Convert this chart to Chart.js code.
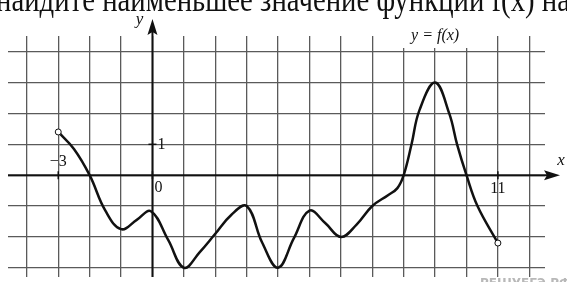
<!DOCTYPE html>
<html>
<head>
<meta charset="utf-8">
<title>y = f(x)</title>
<script src="https://cdn.jsdelivr.net/npm/chart.js@4/dist/chart.umd.min.js"></script>
<style>
body { margin: 0; background: #fff; }
</style>
</head>
<body>
<canvas id="graph" width="567" height="282"></canvas>
<script>
// points of the curve
var xs = [-3, -2.5, -2, -1.5, -1, -0.5, -0.05, 0.5, 1, 1.5, 2, 2.5, 3, 3.5, 4, 4.5, 5, 5.5, 6, 6.5, 7, 7.5, 7.8, 8, 8.25, 8.5, 9, 9.45, 9.7, 10, 10.35, 11];
var ys = [1.4, 0.85, 0, -1.15, -1.75, -1.45, -1.17, -2.1, -3, -2.5, -1.9, -1.3, -1, -2.2, -3, -2.05, -1.15, -1.55, -2, -1.6, -1.0, -0.65, -0.42, 0, 1, 2.1, 3, 2, 1, 0, -1, -2.2];
var tickLabels = [{x: -3, y: 0, text: "\u22123"}, {x: 0, y: 0, text: "0"}, {x: 0, y: 1, text: "1"}, {x: 11, y: 0, text: "11"}];
var title = "найдите наименьшее значение функции f(x) на";

var pts = [];
for (var i = 0; i < xs.length; i++) {
  pts.push({x: xs[i], y: ys[i]});
}
var radii = xs.map(function(v, i) { return (i == 0 || i == xs.length - 1) ? 3 : 0; });

var axesPlugin = {
  id: 'axes',
  beforeDraw: function(chart) {
    var c = chart.ctx;
    c.save();
    c.fillStyle = '#fff';
    c.fillRect(0, 0, chart.width, chart.height);
    c.restore();
  },
  beforeDatasetsDraw: function(chart) {
    var c = chart.ctx, sx = chart.scales.x, sy = chart.scales.y;
    var x0 = sx.getPixelForValue(0), y0 = sy.getPixelForValue(0);
    c.save();
    // white box behind the curve name
    c.fillStyle = '#fff';
    c.fillRect(sx.getPixelForValue(9) - 38, 26, 76, 22);
    c.strokeStyle = '#111';
    c.fillStyle = '#111';
    c.lineWidth = 2;
    // x axis
    c.beginPath();
    c.moveTo(chart.chartArea.left, y0);
    c.lineTo(550, y0);
    c.stroke();
    c.beginPath();
    c.moveTo(560, y0);
    c.lineTo(544, y0 - 5);
    c.lineTo(547, y0);
    c.lineTo(544, y0 + 5);
    c.closePath();
    c.fill();
    // y axis
    c.beginPath();
    c.moveTo(x0, chart.chartArea.bottom);
    c.lineTo(x0, 28);
    c.stroke();
    c.beginPath();
    c.moveTo(x0, 19);
    c.lineTo(x0 - 5, 35);
    c.lineTo(x0, 32);
    c.lineTo(x0 + 5, 35);
    c.closePath();
    c.fill();
    // small tick marks
    c.lineWidth = 1.5;
    tickLabels.forEach(function(t) {
      var px = sx.getPixelForValue(t.x), py = sy.getPixelForValue(t.y);
      c.beginPath();
      if (t.y == 0) { c.moveTo(px, py - 4); c.lineTo(px, py + 4); }
      else { c.moveTo(px - 4, py); c.lineTo(px + 4, py); }
      c.stroke();
    });
    c.restore();
  },
  afterDraw: function(chart) {
    var c = chart.ctx, sx = chart.scales.x, sy = chart.scales.y;
    c.save();
    c.fillStyle = '#111';
    c.textBaseline = 'middle';
    c.font = '16px "Liberation Serif", serif';
    tickLabels.forEach(function(t) {
      var px = sx.getPixelForValue(t.x), py = sy.getPixelForValue(t.y);
      if (t.text == "\u22123") { c.textAlign = 'center'; c.fillText(t.text, px, py - 13); }
      else if (t.text == "0") { c.textAlign = 'left'; c.fillText(t.text, px + 2, py + 13); }
      else if (t.text == "1") { c.textAlign = 'left'; c.fillText(t.text, px + 5, py); }
      else { c.textAlign = 'center'; c.fillText(t.text, px, py + 14); }
    });
    c.font = 'italic 17px "Liberation Serif", serif';
    c.textAlign = 'center';
    c.fillText('y', sx.getPixelForValue(0) - 13, 20);
    c.fillText('x', 561, sy.getPixelForValue(0) - 15);
    c.font = 'italic 16px "Liberation Serif", serif';
    c.fillText('y = f(x)', sx.getPixelForValue(9), 36);

    // cut-off line of the task text at the top
    c.font = '36px "Liberation Serif", serif';
    c.textAlign = 'left';
    c.textBaseline = 'alphabetic';
    var w = c.measureText(title).width;
    c.save();
    c.translate(-4, 11);
    c.scale(574 / w, 1);
    c.fillText(title, 0, 0);
    c.restore();

    // watermark
    c.fillStyle = '#b8b8b8';
    c.font = 'bold 12px "DejaVu Sans", sans-serif';
    c.fillText('РЕШУЕГЭ.РФ', 480, 287);
    c.restore();
  }
};

new Chart(document.getElementById('graph'), {
  type: 'scatter',
  data: {
    datasets: [{
      label: 'y = f(x)',
      data: pts,
      showLine: true,
      tension: 0.4,
      borderColor: '#111',
      borderWidth: 2.5,
      pointRadius: radii,
      pointBackgroundColor: '#fff',
      pointBorderColor: '#111',
      pointBorderWidth: 1
    }]
  },
  options: {
    responsive: false,
    animation: false,
    layout: { padding: { left: 8, right: 22, top: 36, bottom: 0 } },
    plugins: { legend: { display: false }, tooltip: { enabled: false } },
    scales: {
      x: {
        type: 'linear',
        min: -4.6, max: 12.5,
        border: { display: false },
        grid: { color: '#5a5a5a', lineWidth: 1.3, drawTicks: false },
        ticks: { display: false, stepSize: 1, includeBounds: false }
      },
      y: {
        type: 'linear',
        min: -3.3, max: 4.51,
        border: { display: false },
        grid: { color: '#5a5a5a', lineWidth: 1.3, drawTicks: false },
        ticks: { display: false, stepSize: 1, includeBounds: false }
      }
    }
  },
  plugins: [axesPlugin]
});
</script>
</body>
</html>
